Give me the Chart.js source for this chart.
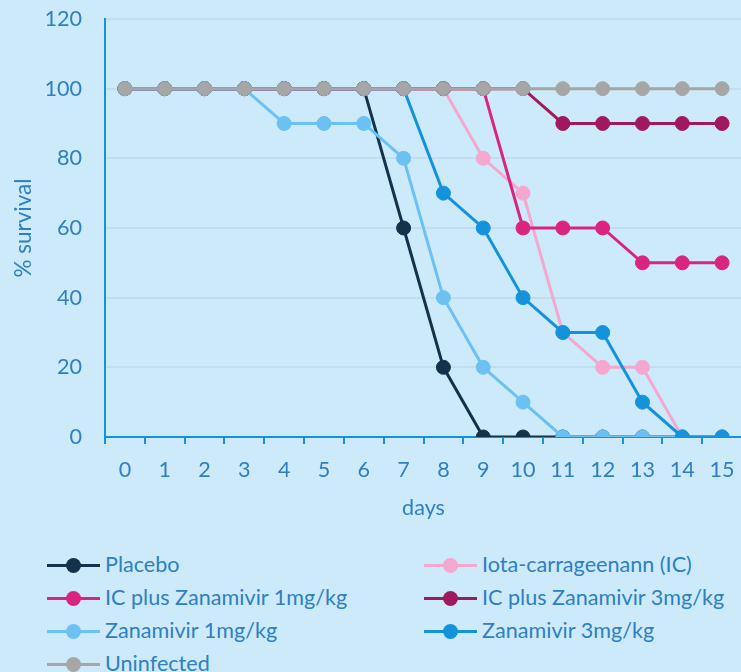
<!DOCTYPE html>
<html>
<head>
<meta charset="utf-8">
<script src="https://cdn.jsdelivr.net/npm/chart.js@4"></script>
<style>
    html, body { margin: 0; padding: 0; background: #cceaf9; overflow: hidden; }
    #wrap { position: relative; width: 741px; height: 672px; overflow: hidden; }
    #survival { position: absolute; left: 0; top: -17px; }
    .legend-item { position: absolute; height: 24px; font-family: Lato, sans-serif; font-size: 21.6px; color: #2f80c2; white-space: nowrap; }
    .legend-item .line { position: absolute; left: 0; top: 11px; width: 53px; height: 3px; }
    .legend-item .dot { position: absolute; left: 19px; top: 5px; width: 15px; height: 15px; border-radius: 50%; }
    .legend-item .label { position: absolute; left: 58px; top: -1px; line-height: 24px; }
</style>
</head>
<body>
<div id="wrap">
    <canvas id="survival" width="750" height="547"></canvas>
    <div id="legend"></div>
</div>
<script>
const days = ['0', '1', '2', '3', '4', '5', '6', '7', '8', '9', '10', '11', '12', '13', '14', '15'];

const placebo      = [100, 100, 100, 100, 100, 100, 100, 60, 20, 0, 0, 0, 0, 0, 0, 0];
const iota         = [100, 100, 100, 100, 100, 100, 100, 100, 100, 80, 70, 30, 20, 20, 0, 0];
const icZana1      = [100, 100, 100, 100, 100, 100, 100, 100, 100, 100, 60, 60, 60, 50, 50, 50];
const icZana3      = [100, 100, 100, 100, 100, 100, 100, 100, 100, 100, 100, 90, 90, 90, 90, 90];
const zana1        = [100, 100, 100, 100, 90, 90, 90, 80, 40, 20, 10, 0, 0, 0, 0, 0];
const zana3        = [100, 100, 100, 100, 100, 100, 100, 100, 70, 60, 40, 30, 30, 10, 0, 0];
const uninfected   = [100, 100, 100, 100, 100, 100, 100, 100, 100, 100, 100, 100, 100, 100, 100, 100];

const seriesNames = ['Placebo', 'Iota-carrageenann (IC)', 'IC plus Zanamivir 1mg/kg', 'IC plus Zanamivir 3mg/kg',
    'Zanamivir 1mg/kg', 'Zanamivir 3mg/kg', 'Uninfected'];
const seriesData = [placebo, iota, icZana1, icZana3, zana1, zana3, uninfected];
const seriesColors = ['#13334c', '#f4a8cf', '#d92580', '#a0195e', '#6cc1f2', '#1592dc', '#a6a6a6'];

const textColor = '#2f80c2';
const axisColor = '#1592dc';
const fontFamily = 'Lato, sans-serif';

const ctx = document.getElementById('survival').getContext('2d');

new Chart(ctx, {
    type: 'line',
    data: {
        labels: days,
        datasets: seriesNames.map((name, i) => {
            return {
                label: name,
                data: seriesData[i],
                borderColor: seriesColors[i],
                backgroundColor: seriesColors[i],
                pointBackgroundColor: seriesColors[i],
                pointBorderColor: seriesColors[i],
                borderWidth: 3,
                pointRadius: 7,
                pointBorderWidth: 1,
                pointHoverRadius: 7,
                tension: 0,
                // later series sit on top, like the original
                order: seriesNames.length - 1 - i
            };
        })
    },
    options: {
        responsive: false,
        animation: false,
        layout: { padding: { top: 1, right: 2, left: 0, bottom: 0 } },
        plugins: {
            legend: { display: false },
            tooltip: { enabled: false }
        },
        scales: {
            x: {
                offset: true,
                grid: {
                    offset: true,
                    drawOnChartArea: false,
                    drawTicks: true,
                    tickLength: 7,
                    color: axisColor,
                    lineWidth: 2
                },
                border: { color: axisColor, width: 2 },
                ticks: {
                    color: textColor,
                    font: { family: fontFamily, size: 21.6 },
                    padding: 13,
                    maxRotation: 0,
                    autoSkip: false
                },
                title: {
                    display: true,
                    text: 'days',
                    color: textColor,
                    font: { family: fontFamily, size: 21.6 },
                    padding: { top: 0, bottom: 9 }
                },
                afterFit: (scale) => { scale.height = 93; }
            },
            y: {
                min: 0,
                max: 120,
                ticks: {
                    stepSize: 20,
                    color: textColor,
                    font: { family: fontFamily, size: 21.6 },
                    padding: 23
                },
                grid: {
                    drawTicks: false,
                    color: '#c2deee',
                    lineWidth: 2
                },
                border: { color: axisColor, width: 2 },
                title: {
                    display: true,
                    text: '% survival',
                    color: textColor,
                    font: { family: fontFamily, size: 22.5 },
                    padding: { top: 10, bottom: 0 }
                },
                afterFit: (scale) => { scale.width = 105; }
            }
        }
    }
});

// legend in two columns, like the original
const legendBox = document.getElementById('legend');
seriesNames.forEach((name, i) => {
    const col = i % 2;
    const row = Math.floor(i / 2);
    const item = document.createElement('div');
    item.className = 'legend-item';
    item.style.left = (col === 0 ? 47 : 424) + 'px';
    item.style.top = (553 + row * 33) + 'px';
    item.innerHTML = '<div class="line" style="background:' + seriesColors[i] + '"></div>' +
        '<div class="dot" style="background:' + seriesColors[i] + '"></div>' +
        '<span class="label">' + name + '</span>';
    legendBox.appendChild(item);
});
</script>
</body>
</html>
